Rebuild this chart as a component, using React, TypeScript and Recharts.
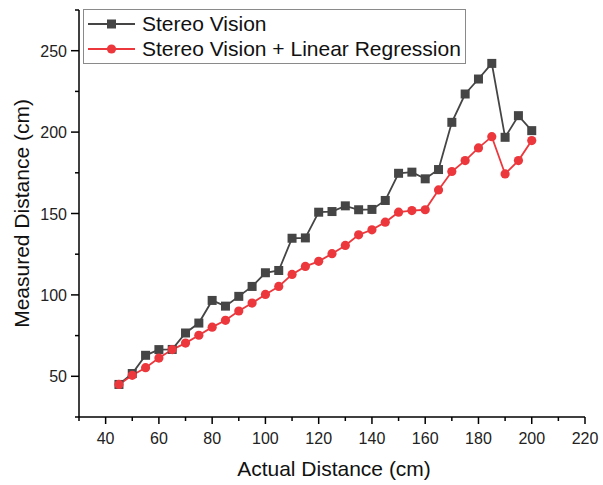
import React from 'react';
import { LineChart, Line, XAxis, YAxis, Legend, Label } from 'recharts';

const distances = [45, 50, 55, 60, 65, 70, 75, 80, 85, 90, 95, 100, 105, 110, 115, 120, 125, 130, 135, 140, 145, 150, 155, 160, 165, 170, 175, 180, 185, 190, 195, 200];
const stereoVision = [45, 51.7, 62.9, 66.4, 66.5, 76.6, 82.7, 96.6, 93.1, 99.1, 105.2, 113.6, 115, 134.8, 135, 150.8, 151.2, 154.7, 152.3, 152.5, 158, 174.7, 175.4, 171.3, 177, 206, 223.4, 232.6, 242.2, 196.8, 210.1, 200.9];
const withRegression = [45, 50.6, 55.3, 61.2, 66.4, 70.4, 75.2, 80.2, 84.4, 90.1, 95, 100.3, 105.2, 112.6, 117.5, 120.6, 125.3, 130.4, 136.9, 140, 144.7, 150.8, 151.8, 152.3, 164.5, 175.8, 182.5, 190.3, 197.2, 174.3, 182.5, 194.8];

const xTicks = [30, 40, 50, 60, 70, 80, 90, 100, 110, 120, 130, 140, 150, 160, 170, 180, 190, 200, 210, 220];
const xMajor = [40, 60, 80, 100, 120, 140, 160, 180, 200, 220];
const yTicks = [25, 50, 75, 100, 125, 150, 175, 200, 225, 250, 275];
const yMajor = [50, 100, 150, 200, 250];

const data = distances.map((d, i) => ({ x: d, stereo: stereoVision[i], regression: withRegression[i] }));

const FONT = '"Liberation Sans", Arial, sans-serif';
const DARK = '#454545';
const RED = '#ec383d';

const XTick = (props: any) => {
  const { x, y, payload } = props;
  const major = xMajor.includes(payload.value);
  return (
    <g>
      <line x1={x} x2={x} y1={y} y2={y + (major ? 7 : 4)} stroke="#000" strokeWidth={1.5} />
      {major && (
        <text x={x} y={y + 27} textAnchor="middle" fontSize={16} fontFamily={FONT} fill="#222">
          {payload.value}
        </text>
      )}
    </g>
  );
};

const YTick = (props: any) => {
  const { x, y, payload } = props;
  const major = yMajor.includes(payload.value);
  return (
    <g>
      <line x1={x - (major ? 8 : 4)} x2={x} y1={y} y2={y} stroke="#000" strokeWidth={1.5} />
      {major && (
        <text x={x - 12} y={y + 6} textAnchor="end" fontSize={16} fontFamily={FONT} fill="#222">
          {payload.value}
        </text>
      )}
    </g>
  );
};

const Square = (props: any) => {
  const { cx, cy, index } = props;
  if (cx == null || cy == null) return <g key={index} />;
  return <rect key={index} x={cx - 4.5} y={cy - 4.5} width={9} height={9} fill={DARK} />;
};

const renderLegend = (props: any) => {
  const { payload } = props;
  return (
    <div
      style={{
        border: '1px solid #8a8a8a',
        background: '#fff',
        padding: '1px 4px 1px 4px',
        fontFamily: FONT,
        fontSize: 21,
        color: '#111',
      }}
    >
      {payload.map((entry: any) => (
        <div key={entry.value} style={{ display: 'flex', alignItems: 'center', height: 25.5, whiteSpace: 'nowrap' }}>
          <svg width={48} height={14} style={{ display: 'block' }}>
            <line x1={0} x2={47} y1={7} y2={7} stroke={entry.color} strokeWidth={1.8} />
            {entry.dataKey === 'stereo' ? (
              <rect x={19} y={2.5} width={9} height={9} fill={entry.color} />
            ) : (
              <circle cx={23.5} cy={7} r={4.6} fill={entry.color} />
            )}
          </svg>
          <span style={{ marginLeft: 6 }}>{entry.value}</span>
        </div>
      ))}
    </div>
  );
};

export default function App() {
  return (
    <div style={{ position: 'absolute', left: 0, top: 0, width: 603, height: 485, background: '#fff' }}>
      <LineChart width={603} height={485} data={data} margin={{ top: 10, right: 18, left: 0, bottom: 0 }}>
        <XAxis
          dataKey="x"
          type="number"
          domain={[30, 220]}
          ticks={xTicks}
          interval={0}
          tickSize={0}
          tickMargin={0}
          tickLine={false}
          tick={<XTick />}
          height={68}
          axisLine={{ stroke: '#000', strokeWidth: 1.5 }}
        >
          <Label
            content={(p: any) => {
              const vb = p.viewBox || { x: 79, y: 417, width: 506 };
              return (
                <text x={vb.x + vb.width / 2 + 2} y={vb.y + 58.5} textAnchor="middle" fontSize={21} fontFamily={FONT} fill="#111">
                  Actual Distance (cm)
                </text>
              );
            }}
          />
        </XAxis>
        <YAxis
          type="number"
          domain={[25, 275]}
          ticks={yTicks}
          interval={0}
          tickSize={0}
          tickMargin={0}
          tickLine={false}
          tick={<YTick />}
          width={79}
          axisLine={{ stroke: '#000', strokeWidth: 1.5 }}
        >
          <Label
            content={(p: any) => {
              const vb = p.viewBox || { y: 10, height: 407 };
              const cy = vb.y + vb.height / 2;
              return (
                <text
                  x={29}
                  y={cy}
                  textAnchor="middle"
                  fontSize={21}
                  fontFamily={FONT}
                  fill="#111"
                  transform={`rotate(-90, 29, ${cy})`}
                >
                  Measured Distance (cm)
                </text>
              );
            }}
          />
        </YAxis>
        <Legend
          layout="vertical"
          align="center"
          verticalAlign="middle"
          content={renderLegend}
          wrapperStyle={{ left: 83, top: 9, width: 'auto', height: 'auto' }}
        />
        <Line
          dataKey="stereo"
          name="Stereo Vision"
          stroke={DARK}
          strokeWidth={1.8}
          dot={Square}
          activeDot={false}
          isAnimationActive={false}
        />
        <Line
          dataKey="regression"
          name="Stereo Vision + Linear Regression"
          stroke={RED}
          strokeWidth={1.8}
          dot={{ r: 4.6, fill: RED, stroke: RED, strokeWidth: 0 }}
          activeDot={false}
          isAnimationActive={false}
        />
      </LineChart>
    </div>
  );
}
